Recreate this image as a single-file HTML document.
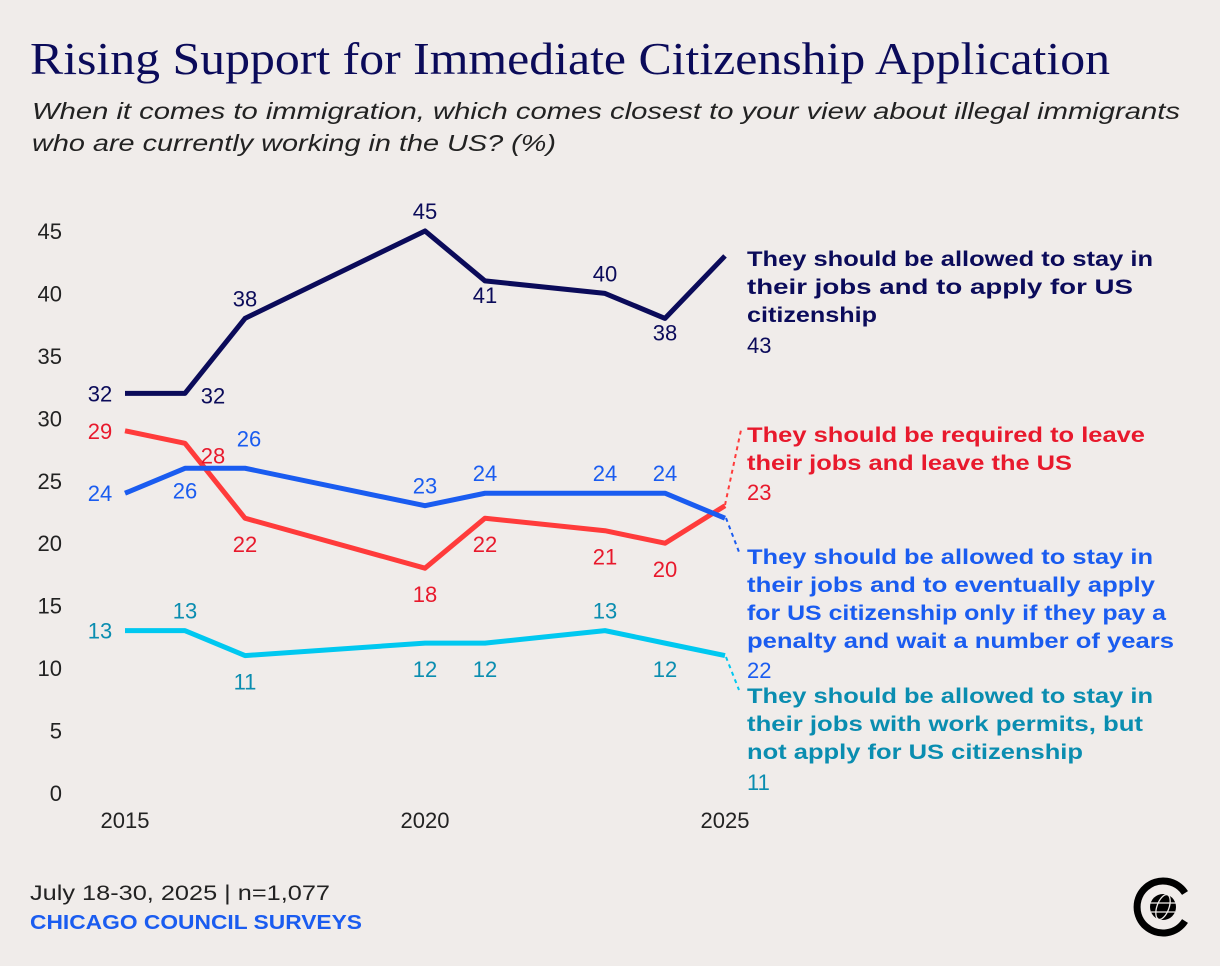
<!DOCTYPE html>
<html><head><meta charset="utf-8"><style>
body{margin:0;width:1220px;height:966px;background:#f0ecea;overflow:hidden;font-family:"Liberation Sans",sans-serif}
svg{position:absolute;left:0;top:0}
</style></head><body>
<svg width="1220" height="966">
<text x="30" y="74" font-family="Liberation Serif,serif" font-size="46" fill="#0b0b5a" textLength="1080" lengthAdjust="spacingAndGlyphs">Rising Support for Immediate Citizenship Application</text>
<text x="32" y="119" font-size="23" font-style="italic" fill="#222" textLength="1148" lengthAdjust="spacingAndGlyphs">When it comes to immigration, which comes closest to your view about illegal immigrants</text>
<text x="32" y="151" font-size="23" font-style="italic" fill="#222" textLength="524" lengthAdjust="spacingAndGlyphs">who are currently working in the US? (%)</text>
<g id="yaxis"></g>
<g id="xaxis"></g>
<g id="lines"></g>
<g id="labels"></g>
<g font-weight="bold" font-size="21" lengthAdjust="spacingAndGlyphs">
<g fill="#0b0b5a"><text x="747" y="266" textLength="406" lengthAdjust="spacingAndGlyphs">They should be allowed to stay in</text><text x="747" y="294" textLength="386" lengthAdjust="spacingAndGlyphs">their jobs and to apply for US</text><text x="747" y="322" textLength="130" lengthAdjust="spacingAndGlyphs">citizenship</text></g>
<g fill="#e8192c"><text x="747" y="442" textLength="398" lengthAdjust="spacingAndGlyphs">They should be required to leave</text><text x="747" y="470" textLength="325" lengthAdjust="spacingAndGlyphs">their jobs and leave the US</text></g>
<g fill="#1a5cf0"><text x="747" y="564" textLength="406" lengthAdjust="spacingAndGlyphs">They should be allowed to stay in</text><text x="747" y="592" textLength="408" lengthAdjust="spacingAndGlyphs">their jobs and to eventually apply</text><text x="747" y="620" textLength="419" lengthAdjust="spacingAndGlyphs">for US citizenship only if they pay a</text><text x="747" y="648" textLength="427" lengthAdjust="spacingAndGlyphs">penalty and wait a number of years</text></g>
<g fill="#0a8db0"><text x="747" y="703" textLength="406" lengthAdjust="spacingAndGlyphs">They should be allowed to stay in</text><text x="747" y="731" textLength="396" lengthAdjust="spacingAndGlyphs">their jobs with work permits, but</text><text x="747" y="759" textLength="336" lengthAdjust="spacingAndGlyphs">not apply for US citizenship</text></g>
</g>
<g font-size="22">
<text x="747" y="353" fill="#0b0b5a" id="lv0"></text>
<text x="747" y="500" fill="#e8192c" id="lv1"></text>
<text x="747" y="678" fill="#1a5cf0" id="lv2"></text>
<text x="747" y="790" fill="#0a8db0" id="lv3"></text>
</g>
<line x1="725" y1="505" x2="741" y2="430" stroke="#ff3b3b" stroke-width="2" stroke-dasharray="4,4"/>
<line x1="726" y1="518" x2="739" y2="552" stroke="#1a5cf0" stroke-width="2" stroke-dasharray="4,4"/>
<line x1="726" y1="657" x2="739" y2="690" stroke="#00c8f0" stroke-width="2" stroke-dasharray="4,4"/>
<text x="30" y="900" font-size="21" fill="#222" textLength="300" lengthAdjust="spacingAndGlyphs">July 18-30, 2025 | n=1,077</text>
<text x="30" y="929" font-size="20" font-weight="bold" fill="#1a5cf0" textLength="332" lengthAdjust="spacingAndGlyphs">CHICAGO COUNCIL SURVEYS</text>
<g>
<path d="M1185 893 A26 26 0 1 0 1185 921" fill="none" stroke="#000" stroke-width="7"/>
<circle cx="1163" cy="907" r="13" fill="#000"/>
<g stroke="#f0ecea" stroke-width="1.3" fill="none"><ellipse cx="1163" cy="907" rx="6" ry="13" transform="rotate(20 1163 907)"/><line x1="1150" y1="903" x2="1176" y2="903"/><line x1="1151" y1="912" x2="1175" y2="912"/></g>
</g>
</svg>
<script>
const years=[2015,2016,2017,2020,2021,2023,2024,2025];
const applyNow=[32,32,38,45,41,40,38,43];
const leave=[29,28,22,18,22,21,20,23];
const penalty=[24,26,26,23,24,24,24,22];
const workPermits=[13,13,11,12,12,13,12,11];
const yTicks=[0,5,10,15,20,25,30,35,40,45];
const xTicks=[2015,2020,2025];
const X=v=>125+(v-2015)*60;
const Y=v=>793-v*12.49;
const NS="http://www.w3.org/2000/svg";
function mk(tag,attrs,parent,txt){const e=document.createElementNS(NS,tag);for(const k in attrs)e.setAttribute(k,attrs[k]);if(txt!==undefined)e.textContent=txt;document.getElementById(parent).appendChild(e);return e;}
yTicks.forEach(t=>{const e=mk('text',{x:62,y:Y(t)+8,'text-anchor':'end','font-size':22,fill:'#222'},'yaxis',t);

});
xTicks.forEach(t=>{const e=mk('text',{x:X(t),y:828,'text-anchor':'middle','font-size':22,fill:'#222'},'xaxis',t);

});
const series=[
 {name:'apply-now',vals:applyNow,line:'#0b0b5a',txt:'#0b0b5a',dx:[-25,28,0,0,0,0,0],dy:[8,10,-12,-12,22,-12,22]},
 {name:'leave',vals:leave,line:'#ff3b3b',txt:'#e8192c',dx:[-25,28,0,0,0,0,0],dy:[8,20,34,34,34,34,34]},
 {name:'penalty',vals:penalty,line:'#1a5cf0',txt:'#1a5cf0',dx:[-25,0,4,0,0,0,0],dy:[8,30,-22,-12,-12,-12,-12]},
 {name:'work-permits',vals:workPermits,line:'#00c8f0',txt:'#0a8db0',dx:[-25,0,0,0,0,0,0],dy:[8,-12,34,34,34,-12,34]}
];
series.forEach((s,si)=>{
 const p=mk('polyline',{points:s.vals.map((v,i)=>X(years[i])+','+Y(v)).join(' '),fill:'none',stroke:s.line,'stroke-width':5,'stroke-linejoin':'round'},'lines');
 
 
 s.vals.slice(0,-1).forEach((v,i)=>{
  const t=mk('text',{x:X(years[i])+s.dx[i],y:Y(v)+s.dy[i],'text-anchor':'middle','font-size':22,fill:s.txt},'labels',v);
  
  
 });
 document.getElementById('lv'+si).textContent=s.vals[s.vals.length-1];
});
</script>
</body></html>
